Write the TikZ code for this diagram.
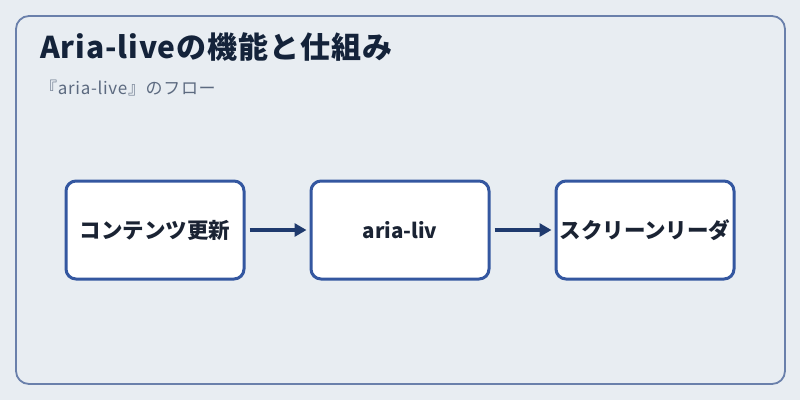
\documentclass[tikz,border=0pt]{standalone}
\usepackage{fontspec}
\setmainfont{Noto Sans CJK JP}
\usetikzlibrary{arrows.meta}
\definecolor{bgc}{HTML}{E8EDF2}
\definecolor{framec}{HTML}{6A80AB}
\definecolor{boxc}{HTML}{3457A0}
\definecolor{arrc}{HTML}{1F3A6E}
\definecolor{titlec}{HTML}{14233A}
\definecolor{subc}{HTML}{5C6A80}
\definecolor{textc}{HTML}{1A2333}
\tikzset{
  stepbox/.style={draw=boxc, line width=3pt, fill=white, rounded corners=10pt,
    minimum width=178pt, minimum height=98pt, inner sep=0pt,
    font=\fontsize{21.5pt}{24pt}\selectfont\bfseries, text=textc},
  flowarrow/.style={draw=arrc, line width=3.2pt, -{Triangle[length=12pt,width=13pt]},
    shorten <=4pt, shorten >=3pt}
}
\begin{document}
\begin{tikzpicture}[x=1pt,y=-1pt]
\fill[bgc] (0,0) rectangle (800,400);
\useasboundingbox (0,0) rectangle (800,400);
\draw[framec, line width=1.8pt, rounded corners=13pt] (16,16) rectangle (785,384);
\node[anchor=base west, inner sep=0pt, text=titlec, font=\fontsize{30pt}{34pt}\selectfont\bfseries\addfontfeature{LetterSpace=3}] (title) at (40,58) {Aria-liveの機能と仕組み};
\node[anchor=base west, inner sep=0pt, text=subc, font=\fontsize{17pt}{20pt}\selectfont\addfontfeature{LetterSpace=4}] (sub) at (40,94) {『aria-live』のフロー};
\node[stepbox] (b1) at (155,230) {コンテンツ更新};
\node[stepbox, font=\fontsize{20.5pt}{24pt}\selectfont\bfseries] (b2) at (400,230) {aria-liv};
\node[stepbox] (b3) at (645,230) {スクリーンリーダ};
\draw[flowarrow] (b1.east) -- (b2.west);
\draw[flowarrow] (b2.east) -- (b3.west);
\end{tikzpicture}
\end{document}
